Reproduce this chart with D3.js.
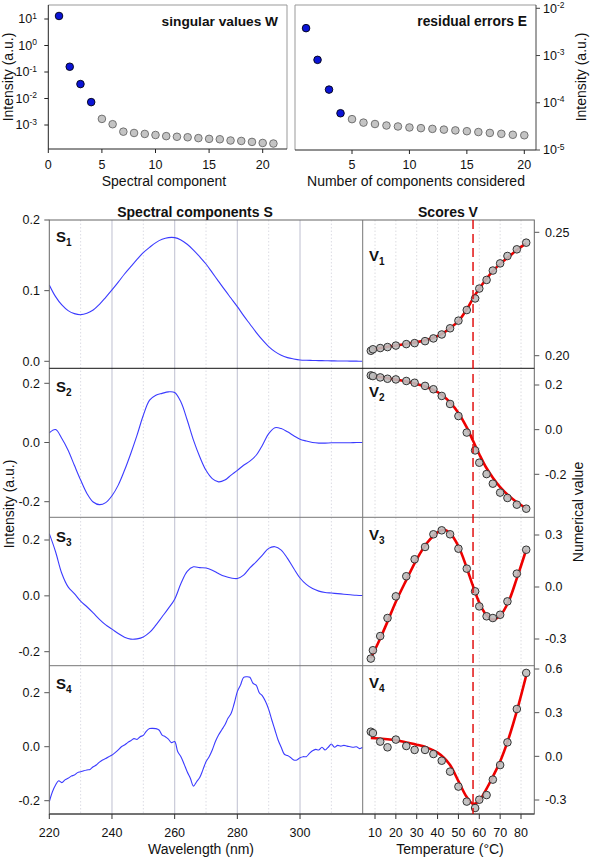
<!DOCTYPE html>
<html><head><meta charset="utf-8">
<script src="https://cdn.jsdelivr.net/npm/d3@7"></script>
<style>
body{margin:0;background:#fff}
text{font-family:"Liberation Sans",Arial,sans-serif;fill:#111}
</style>
</head><body>
<svg id="c" width="591" height="862"></svg>
<script>
// ---------------- DATA ----------------
const componentIndex = [1,2,3,4,5,6,7,8,9,10,11,12,13,14,15,16,17,18,19,20,21];
const singularValues = [13, 0.158, 0.035, 0.0073, 0.0017, 0.00107, 0.00056, 0.0005, 0.00046, 0.00042, 0.00038, 0.00036, 0.000345, 0.00032, 0.0003, 0.00029, 0.00026, 0.00025, 0.00023, 0.00021, 0.0002];
const residualIndex = [1,2,3,4,5,6,7,8,9,10,11,12,13,14,15,16,17,18,19,20];
const residualErrors = [0.0038, 0.00081, 0.00019, 6.0e-5, 4.5e-5, 3.8e-5, 3.55e-5, 3.3e-5, 3.15e-5, 3.0e-5, 2.9e-5, 2.8e-5, 2.7e-5, 2.6e-5, 2.5e-5, 2.4e-5, 2.3e-5, 2.2e-5, 2.1e-5, 2.05e-5];
const significantCount = 4;

const wlCoarse = [220,222,224,226,228,230,232,234,236,238,240,242,244,246,248,250,252,254,256,258,260,262,264,266,268,270,272,274,276,278,280,282,284,286,288,290,292,294,296,298,300,302,304,306,308,310,312,314,316,318,320];
const S1 = [0.108,0.0915,0.0797,0.0717,0.0675,0.066,0.068,0.0726,0.0807,0.0906,0.101,0.112,0.1236,0.134,0.1443,0.1538,0.1613,0.168,0.1726,0.175,0.175,0.1717,0.1656,0.1575,0.148,0.1377,0.1255,0.1132,0.101,0.0892,0.0774,0.0646,0.0528,0.041,0.0302,0.0208,0.0137,0.0085,0.0052,0.0033,0.0019,0.0014,0.0012,0.001,0.0008,0.0006,0.0005,0.0004,0.0003,0.0002,0.0001];
const S2 = [0.033,0.044,0.0135,-0.026,-0.077,-0.127,-0.172,-0.201,-0.210,-0.203,-0.180,-0.144,-0.094,-0.037,0.025,0.092,0.143,0.160,0.166,0.171,0.169,0.137,0.076,0.008,-0.048,-0.094,-0.122,-0.133,-0.127,-0.110,-0.094,-0.077,-0.063,-0.043,-0.009,0.030,0.050,0.047,0.036,0.023,0.011,0.005,0.0,-0.002,-0.002,-0.001,-0.001,-0.001,-0.001,0.0,0.0];
const S3 = [0.223,0.158,0.080,0.032,0.008,-0.019,-0.039,-0.061,-0.084,-0.104,-0.119,-0.135,-0.148,-0.155,-0.154,-0.147,-0.131,-0.105,-0.075,-0.045,-0.012,0.044,0.088,0.104,0.101,0.100,0.092,0.080,0.070,0.064,0.062,0.074,0.100,0.122,0.146,0.170,0.176,0.164,0.134,0.098,0.064,0.041,0.026,0.017,0.012,0.010,0.008,0.006,0.004,0.002,0.001];
const wlFine = [220,221,222,223,224,225,226,227,228,229,230,231,232,233,234,235,236,237,238,239,240,241,242,243,244,245,246,247,248,249,250,251,252,253,254,255,256,257,258,259,260,261,262,263,264,265,266,267,268,269,270,271,272,273,274,275,276,277,278,279,280,281,282,283,284,285,286,287,288,289,290,291,292,293,294,295,296,297,298,299,300,301,302,303,304,305,306,307,308,309,310,311,312,313,314,315,316,317,318,319,320];
const S4 = [-0.204,-0.167,-0.142,-0.126,-0.133,-0.123,-0.117,-0.109,-0.105,-0.096,-0.093,-0.089,-0.086,-0.084,-0.074,-0.068,-0.057,-0.049,-0.044,-0.037,-0.031,-0.022,-0.012,0.000,0.006,0.015,0.022,0.030,0.027,0.037,0.042,0.058,0.067,0.068,0.067,0.062,0.043,0.037,0.028,0.015,0.019,-0.019,-0.037,-0.064,-0.093,-0.117,-0.146,-0.130,-0.114,-0.086,-0.056,-0.037,-0.012,0.019,0.043,0.062,0.080,0.105,0.123,0.160,0.204,0.228,0.257,0.259,0.257,0.235,0.228,0.200,0.188,0.167,0.138,0.099,0.062,0.025,-0.002,-0.028,-0.033,-0.040,-0.049,-0.049,-0.041,-0.037,-0.037,-0.025,-0.015,-0.010,-0.012,-0.002,-0.012,-0.002,0.010,-0.002,0.005,0.002,0.005,0.002,0.000,-0.002,0.000,-0.007,-0.002];

const temperature = [8, 9, 12.5, 16, 20, 25, 29, 34, 38, 42, 46, 50, 54, 58, 60, 63.5, 66.5, 70, 73.5, 78, 82.5];
const V1 = [0.2020,0.2026,0.2031,0.2035,0.2041,0.2047,0.2051,0.2059,0.2070,0.2086,0.2111,0.2142,0.2185,0.2232,0.2272,0.2307,0.2345,0.2374,0.2404,0.2431,0.2458];
const V2 = [0.243,0.240,0.234,0.228,0.225,0.218,0.210,0.196,0.181,0.151,0.115,0.061,-0.013,-0.093,-0.148,-0.199,-0.242,-0.282,-0.306,-0.336,-0.354];
const V3 = [-0.413,-0.365,-0.283,-0.179,-0.054,0.062,0.160,0.231,0.304,0.327,0.304,0.221,0.106,-0.025,-0.112,-0.169,-0.179,-0.160,-0.083,0.077,0.215];
const V4 = [0.169,0.160,0.101,0.062,0.115,0.071,0.044,0.044,0.016,-0.030,-0.105,-0.208,-0.311,-0.355,-0.298,-0.266,-0.160,-0.060,0.096,0.325,0.573];

const fitT = [8,12,16,20,25,30,35,40,43,46,50,54,57,60,63,66.5,70,74,78,82.5];
const V1fit = [0.2023,0.2030,0.2036,0.2041,0.2048,0.2055,0.2065,0.2080,0.2093,0.2112,0.2140,0.2188,0.2232,0.2272,0.2307,0.2343,0.2372,0.2400,0.2428,0.2455];
const V2fit = [0.240,0.236,0.230,0.224,0.216,0.205,0.190,0.168,0.148,0.122,0.075,0.010,-0.050,-0.110,-0.165,-0.215,-0.257,-0.295,-0.325,-0.352];
const V3fit = [-0.41,-0.31,-0.20,-0.085,0.04,0.16,0.255,0.315,0.33,0.31,0.235,0.11,0.005,-0.09,-0.155,-0.188,-0.165,-0.085,0.05,0.215];
const V4fit = [0.126,0.122,0.117,0.111,0.095,0.08,0.06,0.025,-0.01,-0.06,-0.17,-0.28,-0.327,-0.305,-0.235,-0.14,-0.035,0.12,0.31,0.555];
const transitionT = 57;

const wTicks = [0,5,10,15,20];
const eTicks = [5,10,15,20];
const wLogTicks = [1,0,-1,-2,-3];
const eLogTicks = [-2,-3,-4,-5];
const wlTicks = [220,240,260,280,300];
const tTicks = [10,20,30,40,50,60,70,80];
const sTickLabels = [["0.0","0.1","0.2"],["-0.2","0.0","0.2"],["-0.2","0.0","0.2"],["-0.2","0.0","0.2"]];
const vTickLabels = [["0.20","0.25"],["-0.2","0.0","0.2"],["-0.3","0.0","0.3"],["-0.3","0.0","0.3","0.6"]];

// ---------------- DRAW ----------------
const svg = d3.select("#c");
const blueDot = "#0b14d6", grayDot = "#c4c4c4";

function logLabel(g, x, y, p, anchor){
  const t = g.append("text").attr("x",x).attr("y",y).attr("text-anchor",anchor)
    .attr("font-size",12.5).attr("dy","0.35em");
  t.append("tspan").text("10");
  t.append("tspan").attr("font-size",8.5).attr("dy","-0.55em").text(p);
}

// ---- top-left: singular values
{
  const x = d3.scaleLinear().domain([0,20]).range([48.3,262.7]);
  const y = d3.scaleLog().domain([1e-3,10]).range([125,19]);
  const L=48.3,R=287,T=5,B=149;
  const g = svg.append("g");
  g.append("line").attr("x1",L).attr("x2",R).attr("y1",T).attr("y2",T).attr("stroke","#999");
  g.append("line").attr("x1",R).attr("x2",R).attr("y1",T).attr("y2",B).attr("stroke","#999");
  g.append("line").attr("x1",L).attr("x2",L).attr("y1",T).attr("y2",B).attr("stroke","#222");
  g.append("line").attr("x1",L).attr("x2",R).attr("y1",B).attr("y2",B).attr("stroke","#222");
  wTicks.forEach(v=>{
    g.append("line").attr("x1",x(v)).attr("x2",x(v)).attr("y1",B).attr("y2",B+4).attr("stroke","#222");
    g.append("text").attr("x",x(v)).attr("y",169).attr("text-anchor","middle").attr("font-size",12.5).text(v);
  });
  wLogTicks.forEach(p=>{
    const yy=y(Math.pow(10,p));
    g.append("line").attr("x1",L-4).attr("x2",L).attr("y1",yy).attr("y2",yy).attr("stroke","#222");
    logLabel(g, 37, yy, p, "end");
  });
  g.selectAll("circle").data(singularValues).join("circle")
    .attr("cx",(d,i)=>x(componentIndex[i])).attr("cy",d=>y(d)).attr("r",3.8)
    .attr("fill",(d,i)=>i<significantCount?blueDot:grayDot)
    .attr("stroke",(d,i)=>i<significantCount?"#001":"#666").attr("stroke-width",0.9);
  g.append("text").attr("x",278).attr("y",26).attr("text-anchor","end").attr("font-size",13.7).attr("font-weight","bold").text("singular values W");
  g.append("text").attr("x",164).attr("y",186).attr("text-anchor","middle").attr("font-size",14).text("Spectral component");
  g.append("text").attr("transform","translate(13,77) rotate(-90)").attr("text-anchor","middle").attr("font-size",14).text("Intensity (a.u.)");
}

// ---- top-right: residual errors
{
  const x = d3.scaleLinear().domain([5,20]).range([352,524.3]);
  const y = d3.scaleLog().domain([1e-5,1e-2]).range([150,8.3]);
  const L=295,R=536,T=5,B=150;
  const g = svg.append("g");
  g.append("line").attr("x1",L).attr("x2",R).attr("y1",T).attr("y2",T).attr("stroke","#999");
  g.append("line").attr("x1",L).attr("x2",L).attr("y1",T).attr("y2",B).attr("stroke","#999");
  g.append("line").attr("x1",R).attr("x2",R).attr("y1",T).attr("y2",B).attr("stroke","#444");
  g.append("line").attr("x1",L).attr("x2",R).attr("y1",B).attr("y2",B).attr("stroke","#222");
  eTicks.forEach(v=>{
    g.append("line").attr("x1",x(v)).attr("x2",x(v)).attr("y1",B).attr("y2",B+4).attr("stroke","#222");
    g.append("text").attr("x",x(v)).attr("y",169).attr("text-anchor","middle").attr("font-size",12.5).text(v);
  });
  eLogTicks.forEach(p=>{
    const yy=y(Math.pow(10,p));
    g.append("line").attr("x1",R).attr("x2",R+4).attr("y1",yy).attr("y2",yy).attr("stroke","#444");
    logLabel(g, 543, yy, p, "start");
  });
  g.selectAll("circle").data(residualErrors).join("circle")
    .attr("cx",(d,i)=>x(residualIndex[i])).attr("cy",d=>y(d)).attr("r",3.8)
    .attr("fill",(d,i)=>i<significantCount?blueDot:grayDot)
    .attr("stroke",(d,i)=>i<significantCount?"#001":"#666").attr("stroke-width",0.9);
  g.append("text").attr("x",527).attr("y",26).attr("text-anchor","end").attr("font-size",13.8).attr("font-weight","bold").text("residual errors E");
  g.append("text").attr("x",416).attr("y",186).attr("text-anchor","middle").attr("font-size",14).text("Number of components considered");
  g.append("text").attr("transform","translate(586,77) rotate(-90)").attr("text-anchor","middle").attr("font-size",14).text("Intensity (a.u.)");
}

// ---- main S / V panels
const xS = d3.scaleLinear().domain([220,320]).range([49.3,362.7]);
const xT = d3.scaleLinear().domain([10,80]).range([375,521]);
const SL=49.3, SR=362.7, VR=534.3;
const rows = [
  {top:220, bot:368.3, s:[[0,361.3],[0.2,220]], v:[[0.20,355.7],[0.25,232.3]], sw:wlCoarse, S:S1, V:V1, F:V1fit, sTicks:[0,0.1,0.2], vTicks:[0.20,0.25], lab:["S","1"], vlab:["V","1"], sLabY:242, vLabY:261},
  {top:368.3, bot:517.3, s:[[-0.2,501.7],[0.2,383.3]], v:[[-0.2,474.3],[0.2,385]], sw:wlCoarse, S:S2, V:V2, F:V2fit, sTicks:[-0.2,0,0.2], vTicks:[-0.2,0,0.2], lab:["S","2"], vlab:["V","2"], sLabY:392, vLabY:397},
  {top:517.3, bot:665.7, s:[[-0.2,651.7],[0.2,540]], v:[[-0.3,639],[0.3,535]], sw:wlCoarse, S:S3, V:V3, F:V3fit, sTicks:[-0.2,0,0.2], vTicks:[-0.3,0,0.3], lab:["S","3"], vlab:["V","3"], sLabY:542, vLabY:540},
  {top:665.7, bot:814, s:[[-0.2,800.7],[0.2,692.7]], v:[[-0.3,800],[0.6,669]], sw:wlFine, S:S4, V:V4, F:V4fit, sTicks:[-0.2,0,0.2], vTicks:[-0.3,0,0.3,0.6], lab:["S","4"], vlab:["V","4"], sLabY:689, vLabY:688}
];

const defs = svg.append("defs");
rows.forEach((r,i)=>{
  defs.append("clipPath").attr("id","cs"+i).append("rect").attr("x",SL).attr("y",r.top).attr("width",SR-SL).attr("height",r.bot-r.top);
  defs.append("clipPath").attr("id","cv"+i).append("rect").attr("x",SR).attr("y",r.top).attr("width",VR-SR).attr("height",r.bot-r.top);
});

const gridG = svg.append("g");
[230,240,250,260,270,280,290,300,310].forEach(w=>{
  const major = w%20===0;
  gridG.append("line").attr("x1",xS(w)).attr("x2",xS(w)).attr("y1",220).attr("y2",814)
    .attr("stroke",major?"#c9cad8":"#dcdce4").attr("stroke-width",major?1.2:1)
    .attr("stroke-dasharray",major?null:"1.5,2");
});
tTicks.forEach(t=>{
  gridG.append("line").attr("x1",xT(t)).attr("x2",xT(t)).attr("y1",220).attr("y2",814)
    .attr("stroke","#dcdce0").attr("stroke-dasharray","1.5,2");
});

rows.forEach((r,i)=>{
  const yS = d3.scaleLinear().domain([r.s[0][0],r.s[1][0]]).range([r.s[0][1],r.s[1][1]]);
  const yV = d3.scaleLinear().domain([r.v[0][0],r.v[1][0]]).range([r.v[0][1],r.v[1][1]]);
  const g = svg.append("g");
  g.append("path").attr("clip-path","url(#cs"+i+")")
    .attr("d", d3.line().x((d,k)=>xS(r.sw[k])).y(d=>yS(d)).curve(d3.curveCatmullRom)(r.S))
    .attr("fill","none").attr("stroke","#3b3bff").attr("stroke-width",1.1);
  g.append("path").attr("clip-path","url(#cv"+i+")")
    .attr("d", d3.line().x((d,k)=>xT(fitT[k])).y(d=>yV(d)).curve(d3.curveCatmullRom)(r.F))
    .attr("fill","none").attr("stroke","#ee0000").attr("stroke-width",2.6);
  g.selectAll("circle").data(r.V).join("circle")
    .attr("cx",(d,k)=>xT(temperature[k])).attr("cy",d=>yV(d)).attr("r",3.8)
    .attr("fill","#bdbdbd").attr("fill-opacity",0.9).attr("stroke","#333").attr("stroke-width",1);
  r.sTicks.forEach((v,k)=>{
    g.append("line").attr("x1",SL-5).attr("x2",SL).attr("y1",yS(v)).attr("y2",yS(v)).attr("stroke","#555");
    g.append("text").attr("x",40).attr("y",yS(v)).attr("dy","0.35em").attr("text-anchor","end").attr("font-size",12.5).text(sTickLabels[i][k]);
  });
  r.vTicks.forEach((v,k)=>{
    g.append("line").attr("x1",VR).attr("x2",VR+5).attr("y1",yV(v)).attr("y2",yV(v)).attr("stroke","#555");
    g.append("text").attr("x",545).attr("y",yV(v)).attr("dy","0.35em").attr("text-anchor","start").attr("font-size",12.5).text(vTickLabels[i][k]);
  });
  const t1 = g.append("text").attr("x",56).attr("y",r.sLabY).attr("font-size",15).attr("font-weight","bold");
  t1.append("tspan").text(r.lab[0]);
  t1.append("tspan").attr("font-size",10).attr("dy",4).text(r.lab[1]);
  const t2 = g.append("text").attr("x",369).attr("y",r.vLabY).attr("font-size",15).attr("font-weight","bold");
  t2.append("tspan").text(r.vlab[0]);
  t2.append("tspan").attr("font-size",10).attr("dy",4).text(r.vlab[1]);
});

const fr = svg.append("g").attr("fill","none");
fr.append("rect").attr("x",SL).attr("y",220).attr("width",VR-SL).attr("height",814-220).attr("stroke","#666");
fr.append("line").attr("x1",SR).attr("x2",SR).attr("y1",220).attr("y2",814).attr("stroke","#777");
fr.append("line").attr("x1",SL).attr("x2",VR).attr("y1",368.3).attr("y2",368.3).attr("stroke","#111");
fr.append("line").attr("x1",SL).attr("x2",VR).attr("y1",517.3).attr("y2",517.3).attr("stroke","#777");
fr.append("line").attr("x1",SL).attr("x2",VR).attr("y1",665.7).attr("y2",665.7).attr("stroke","#777");
fr.append("line").attr("x1",SL).attr("x2",VR).attr("y1",814).attr("y2",814).attr("stroke","#333");

svg.append("line").attr("x1",xT(transitionT)).attr("x2",xT(transitionT)).attr("y1",220).attr("y2",814)
  .attr("stroke","#e00000").attr("stroke-width",1.4).attr("stroke-dasharray","9,5");

const ax = svg.append("g");
wlTicks.forEach(w=>{
  ax.append("line").attr("x1",xS(w)).attr("x2",xS(w)).attr("y1",814).attr("y2",819).attr("stroke","#333");
  ax.append("text").attr("x",xS(w)).attr("y",837).attr("text-anchor","middle").attr("font-size",12.5).text(w);
});
tTicks.forEach(t=>{
  ax.append("line").attr("x1",xT(t)).attr("x2",xT(t)).attr("y1",814).attr("y2",819).attr("stroke","#333");
  ax.append("text").attr("x",xT(t)).attr("y",837).attr("text-anchor","middle").attr("font-size",12.5).text(t);
});
ax.append("text").attr("x",201).attr("y",854).attr("text-anchor","middle").attr("font-size",14).text("Wavelength (nm)");
ax.append("text").attr("x",450).attr("y",854).attr("text-anchor","middle").attr("font-size",14).text("Temperature (°C)");
ax.append("text").attr("x",195).attr("y",217).attr("text-anchor","middle").attr("font-size",14).attr("font-weight","bold").text("Spectral components S");
ax.append("text").attr("x",448).attr("y",217).attr("text-anchor","middle").attr("font-size",14).attr("font-weight","bold").text("Scores V");
ax.append("text").attr("transform","translate(14,504) rotate(-90)").attr("text-anchor","middle").attr("font-size",14).text("Intensity (a.u.)");
ax.append("text").attr("transform","translate(583,512) rotate(-90)").attr("text-anchor","middle").attr("font-size",14).text("Numerical value");
</script>
</body></html>
